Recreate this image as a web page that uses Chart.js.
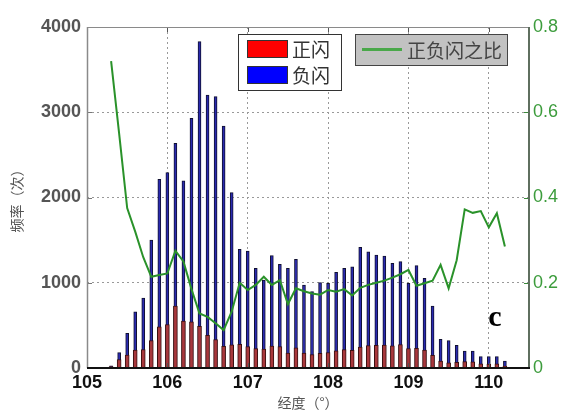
<!DOCTYPE html>
<html><head><meta charset="utf-8">
<script src="https://cdn.jsdelivr.net/npm/chart.js@4.4.1/dist/chart.umd.min.js"></script>
<style>html,body{margin:0;padding:0;background:#fff}#wrap{width:564px;height:411px;position:relative}</style>
</head><body><div id="wrap"><canvas id="c" width="564" height="411"></canvas></div>
<script>
// ---- data ----
const longitudes = [105.3,105.4,105.5,105.6,105.7,105.8,105.9,106.0,106.1,106.2,
  106.3,106.4,106.5,106.6,106.7,106.8,106.9,107.0,107.1,107.2,
  107.3,107.4,107.5,107.6,107.7,107.8,107.9,108.0,108.1,108.2,
  108.3,108.4,108.5,108.6,108.7,108.8,108.9,109.0,109.1,109.2,
  109.3,109.4,109.5,109.6,109.7,109.8,109.9,110.0,110.1,110.2];
const negativeFlashes = [25,180,407,660,821,1501,2214,2291,2636,2197,
  2929,3828,3200,3183,2839,2057,1392,1372,1169,1032,
  1318,1216,1169,1275,973,895,1001,993,1122,1169,
  1188,1416,1364,1326,1314,1228,1247,993,1200,1052,
  727,336,321,265,199,199,133,135,135,80];
const positiveFlashes = [18,100,153,211,215,321,483,508,725,549,
  542,490,384,334,253,272,278,251,228,221,
  257,250,175,238,175,157,172,182,201,216,
  208,244,262,265,269,260,274,228,231,209,
  149,81,60,67,74,72,49,45,49,23];
const ratioPosNeg = [0.72,0.55,0.375,0.32,0.26,0.214,0.218,0.222,0.275,0.25,
  0.185,0.128,0.12,0.105,0.089,0.132,0.2,0.183,0.195,0.214,
  0.195,0.206,0.15,0.187,0.18,0.175,0.172,0.183,0.179,0.185,
  0.17,0.188,0.195,0.2,0.205,0.212,0.22,0.23,0.193,0.199,
  0.205,0.242,0.187,0.253,0.372,0.364,0.368,0.33,0.363,0.285];
const xTicks = [105,106,107,108,109,110];
const leftTicks = [0,1000,2000,3000,4000];
const rightTicks = [0,0.2,0.4,0.6,0.8];
const seriesNames = ['正闪','负闪','正负闪之比'];
const xTitle = '经度（°）';
const yTitle = '频率（次）';
const panelLabel = 'c';

const pts = (vals) => longitudes.map((x,i)=>({x:x,y:vals[i]}));

const framePlugin = {
  id:'frame',
  afterDraw(chart){
    const {ctx, chartArea:a, scales} = chart;
    ctx.save();
    // inward ticks
    ctx.lineWidth = 1;
    ctx.strokeStyle = '#555';
    xTicks.forEach(v=>{
      const px = Math.round(scales.x.getPixelForValue(v))+0.5;
      ctx.beginPath(); ctx.moveTo(px,a.bottom); ctx.lineTo(px,a.bottom-5);
      ctx.moveTo(px,a.top); ctx.lineTo(px,a.top+5); ctx.stroke();
    });
    ctx.strokeStyle = '#777';
    leftTicks.forEach(v=>{
      const py = Math.round(scales.y.getPixelForValue(v))+0.5;
      ctx.beginPath(); ctx.moveTo(a.left,py); ctx.lineTo(a.left+5,py); ctx.stroke();
    });
    ctx.strokeStyle = '#3a8a3a';
    rightTicks.forEach(v=>{
      const py = Math.round(scales.y1.getPixelForValue(v))+0.5;
      ctx.beginPath(); ctx.moveTo(a.right,py); ctx.lineTo(a.right-5,py); ctx.stroke();
    });
    // frame
    ctx.strokeStyle = '#8a8a8a'; ctx.lineWidth = 1;
    ctx.beginPath(); ctx.moveTo(a.left,a.top+0.5); ctx.lineTo(a.right,a.top+0.5); ctx.stroke();
    ctx.lineWidth = 1.5;
    ctx.beginPath(); ctx.moveTo(a.left+0.5,a.top); ctx.lineTo(a.left+0.5,a.bottom); ctx.stroke();
    ctx.strokeStyle = '#5f6f5f'; ctx.lineWidth = 2;
    ctx.beginPath(); ctx.moveTo(a.right,a.top); ctx.lineTo(a.right,a.bottom); ctx.stroke();
    ctx.strokeStyle = '#111'; ctx.lineWidth = 2;
    ctx.beginPath(); ctx.moveTo(a.left,a.bottom); ctx.lineTo(a.right+1,a.bottom); ctx.stroke();

    // legend 1 (bars)
    const ds = chart.data.datasets;
    ctx.fillStyle = '#fff'; ctx.fillRect(238,34,104,57);
    ctx.strokeStyle = '#333'; ctx.lineWidth = 1; ctx.strokeRect(238.5,34.5,103,56);
    ctx.fillStyle = ds[0].legendColor; ctx.fillRect(247,40,41,18);
    ctx.strokeStyle = '#333'; ctx.strokeRect(247.5,40.5,40,17);
    ctx.fillStyle = ds[1].legendColor; ctx.fillRect(247,66,41,18);
    ctx.strokeRect(247.5,66.5,40,17);
    ctx.font = '19px "Noto Sans CJK SC"';
    ctx.fillStyle = '#333'; ctx.textBaseline = 'middle'; ctx.textAlign = 'left';
    ctx.fillText(ds[0].label, 292, 50);
    ctx.fillText(ds[1].label, 292, 76);
    // legend 2 (line)
    ctx.fillStyle = '#c2c2c2'; ctx.fillRect(355,34,153,32);
    ctx.strokeStyle = '#444'; ctx.strokeRect(355.5,34.5,152,31);
    ctx.strokeStyle = '#4aa84a'; ctx.lineWidth = 3;
    ctx.beginPath(); ctx.moveTo(362,49.5); ctx.lineTo(402,49.5); ctx.stroke();
    ctx.fillStyle = '#444';
    ctx.fillText(ds[2].label, 407, 51);
    // panel label
    ctx.font = 'bold 30px "Liberation Serif"';
    ctx.fillStyle = '#000'; ctx.textAlign = 'center';
    ctx.fillText(panelLabel, 495, 318);
    ctx.restore();
  }
};

new Chart(document.getElementById('c'), {
  type:'bar',
  data:{
    datasets:[
      {label:seriesNames[0], data:pts(positiveFlashes), backgroundColor:'#a8383c', legendColor:'#ff0000',
       borderColor:'#3a1010', borderWidth:1, barThickness:4, grouped:false, order:1, yAxisID:'y'},
      {label:seriesNames[1], data:pts(negativeFlashes), backgroundColor:'#2a2ab0', legendColor:'#0000ff',
       borderColor:'#101030', borderWidth:1, barThickness:3, grouped:false, order:2, yAxisID:'y'},
      {type:'line', label:seriesNames[2], data:pts(ratioPosNeg), borderColor:'#2a922a', borderWidth:2,
       pointRadius:0, tension:0, fill:false, order:0, yAxisID:'y1'}
    ]
  },
  plugins:[framePlugin],
  options:{
    responsive:false, animation:false,
    layout:{padding:{top:27,left:0,right:0,bottom:0}},
    plugins:{legend:{display:false}, tooltip:{enabled:false}},
    scales:{
      x:{type:'linear', min:105, max:110.5, offset:false,
         ticks:{stepSize:1, includeBounds:false, padding:4, color:'#111',
                font:{family:'"Liberation Sans"', size:18, weight:'bold'}},
         grid:{offset:false, drawTicks:false, color:'#999', lineWidth:1},
         border:{display:false, dash:[2,3]},
         title:{display:true, text:xTitle, color:'#555', padding:{top:0,bottom:0},
                font:{family:'"Noto Sans CJK SC"', size:14}},
         afterFit(s){ s.height = 43; }},
      y:{position:'left', min:0, max:4000,
         ticks:{stepSize:1000, padding:6, color:'#555', callback:(v)=>String(v),
                font:{family:'"Liberation Sans"', size:18, weight:'bold'}},
         grid:{drawTicks:false, color:'#999', lineWidth:1},
         border:{display:false, dash:[2,3]},
         title:{display:true, text:yTitle, color:'#555', padding:{top:8,bottom:0},
                font:{family:'"Noto Sans CJK SC"', size:14}},
         afterFit(s){ s.width = 87; }},
      y1:{position:'right', min:0, max:0.8,
         ticks:{stepSize:0.2, padding:4, color:'#3c9c3c',
                font:{family:'"Liberation Sans"', size:18}},
         grid:{display:false, drawTicks:false},
         border:{display:false},
         afterFit(s){ s.width = 35; }}
    }
  }
});
</script></body></html>
